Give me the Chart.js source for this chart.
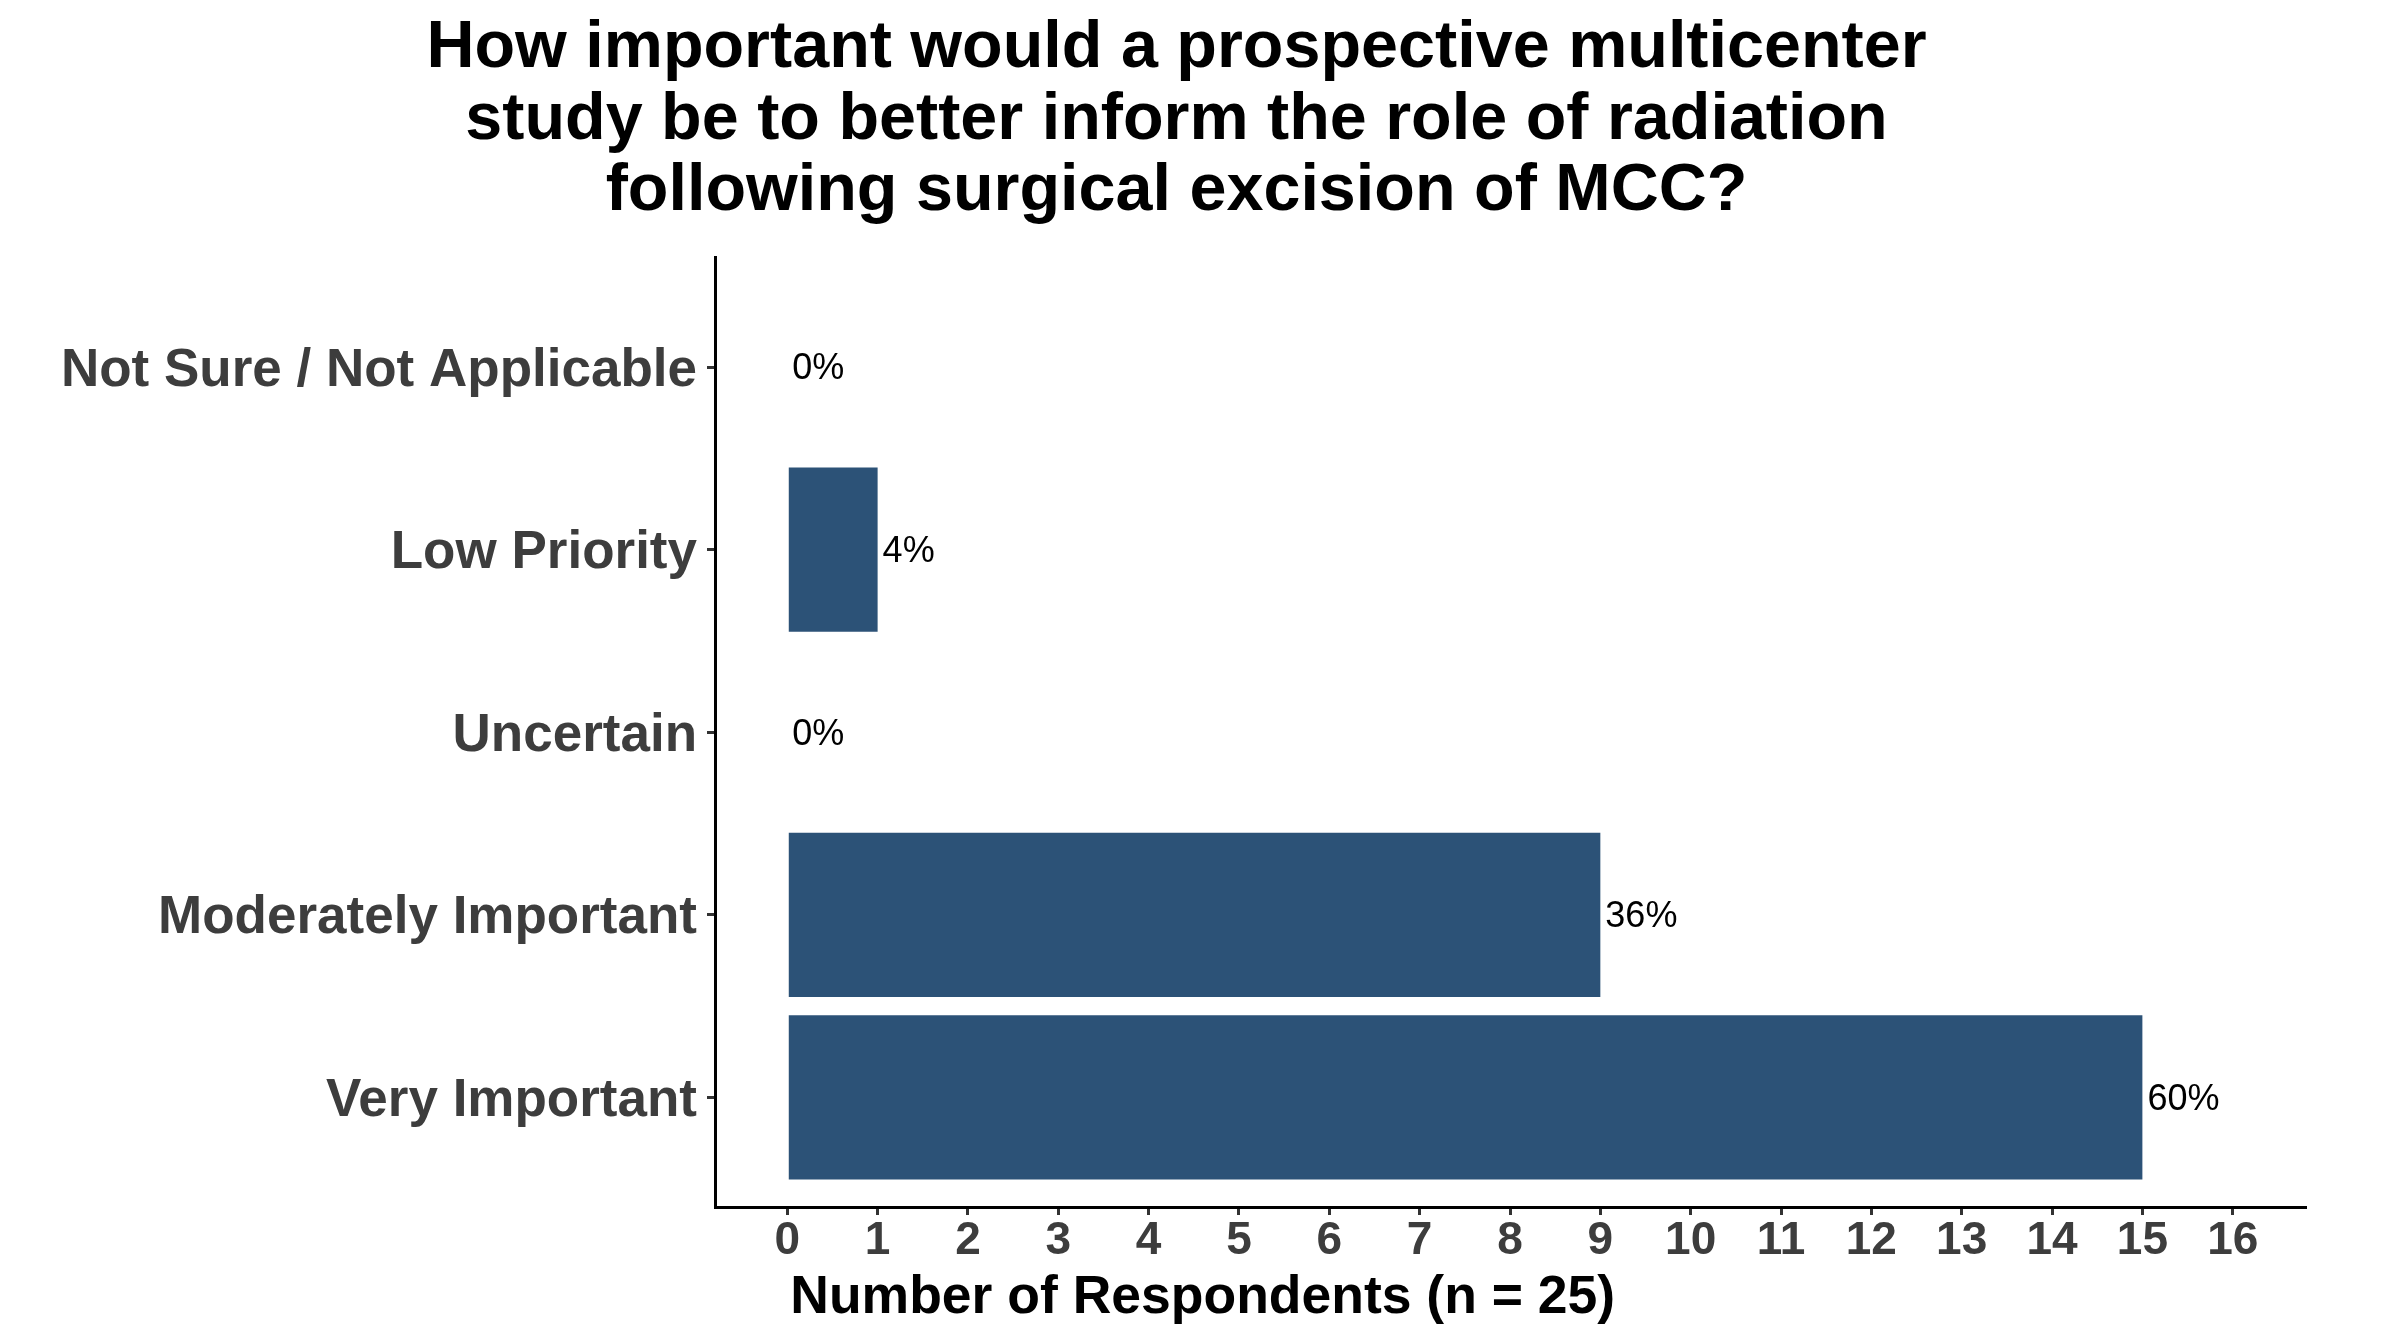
<!DOCTYPE html>
<html><head><meta charset="utf-8">
<script src="https://cdn.jsdelivr.net/npm/chart.js@4/dist/chart.umd.min.js"></script>
<style>html,body{margin:0;padding:0;background:#fff;} canvas{display:block;}</style>
</head><body>
<canvas id="c" width="2400" height="1344"></canvas>
<script>
const titleLines = [
  "How important would a prospective multicenter",
  "study be to better inform the role of radiation",
  "following surgical excision of MCC?"
];
const categories = ["Not Sure / Not Applicable", "Low Priority", "Uncertain", "Moderately Important", "Very Important"];
const counts = [0, 1, 0, 9, 15];
const percentLabels = ["0%", "4%", "0%", "36%", "60%"];
const xTicks = [0, 1, 2, 3, 4, 5, 6, 7, 8, 9, 10, 11, 12, 13, 14, 15, 16];
const xAxisTitle = "Number of Respondents (n = 25)";

const FONT = "'Liberation Sans', Arial, Helvetica, sans-serif";
const BAR_COLOR = '#2C5277';
const TICK_TEXT = '#3d3d3d';

const barLabels = {
  id: 'barLabels',
  afterDatasetsDraw(chart) {
    const ctx = chart.ctx;
    const meta = chart.getDatasetMeta(0);
    ctx.save();
    ctx.font = '36px ' + FONT;
    ctx.fillStyle = '#000';
    ctx.textAlign = 'left';
    ctx.textBaseline = 'middle';
    meta.data.forEach((el, i) => {
      ctx.fillText(percentLabels[i], el.x + 5, el.y + 2.5);
    });
    ctx.restore();
  }
};

const xTitle = {
  id: 'xTitle',
  afterDraw(chart) {
    const ctx = chart.ctx;
    const xs = chart.scales.x;
    ctx.save();
    ctx.font = 'bold 53.5px ' + FONT;
    ctx.fillStyle = '#000';
    ctx.textAlign = 'left';
    ctx.textBaseline = 'alphabetic';
    ctx.fillText(xAxisTitle, xs.getPixelForValue(0) + 3, chart.height - 31);
    ctx.restore();
  }
};

new Chart(document.getElementById('c'), {
  type: 'bar',
  data: {
    datasets: [{
      data: counts.map((v, i) => ({ x: v, y: i })),
      backgroundColor: BAR_COLOR,
      borderWidth: 0,
      categoryPercentage: 0.9,
      barPercentage: 1.0
    }]
  },
  plugins: [barLabels, xTitle],
  options: {
    indexAxis: 'y',
    responsive: false,
    devicePixelRatio: 1,
    animation: false,
    layout: { padding: { left: 48, right: 95, top: 0, bottom: 0 } },
    plugins: {
      legend: { display: false },
      tooltip: { enabled: false },
      title: {
        display: true,
        text: titleLines,
        align: 'center',
        color: '#000',
        font: { family: FONT, size: 66.5, weight: 'bold', lineHeight: 1.075 },
        padding: { top: 13, bottom: 30 }
      }
    },
    scales: {
      x: {
        type: 'linear',
        position: 'bottom',
        min: -0.8,
        max: 16.8,
        afterBuildTicks: (s) => { s.ticks = xTicks.map(v => ({ value: v })); },
        afterFit: (s) => { s.height = 137; },
        ticks: {
          autoSkip: false,
          maxRotation: 0,
          padding: 3,
          color: TICK_TEXT,
          font: { family: FONT, size: 46, weight: 'bold', lineHeight: 1.0 },
          callback: (v) => String(v)
        },
        grid: { drawOnChartArea: false, drawTicks: true, tickLength: 8, color: '#333', lineWidth: 3 },
        border: { display: true, color: '#000', width: 3 }
      },
      y: {
        type: 'linear',
        position: 'left',
        reverse: true,
        offset: false,
        min: -0.6,
        max: 4.6,
        afterBuildTicks: (s) => { s.ticks = categories.map((_, i) => ({ value: i })); },
        afterFit: (s) => { s.width = 667; },
        ticks: {
          autoSkip: false,
          padding: 10,
          color: TICK_TEXT,
          font: { family: FONT, size: 53, weight: 'bold', lineHeight: '8px' },
          callback: (v) => ['', categories[Math.round(v)]]
        },
        grid: { offset: false, drawOnChartArea: false, drawTicks: true, tickLength: 8, color: '#333', lineWidth: 3 },
        border: { display: true, color: '#000', width: 3 }
      }
    }
  }
});
</script>
</body></html>
